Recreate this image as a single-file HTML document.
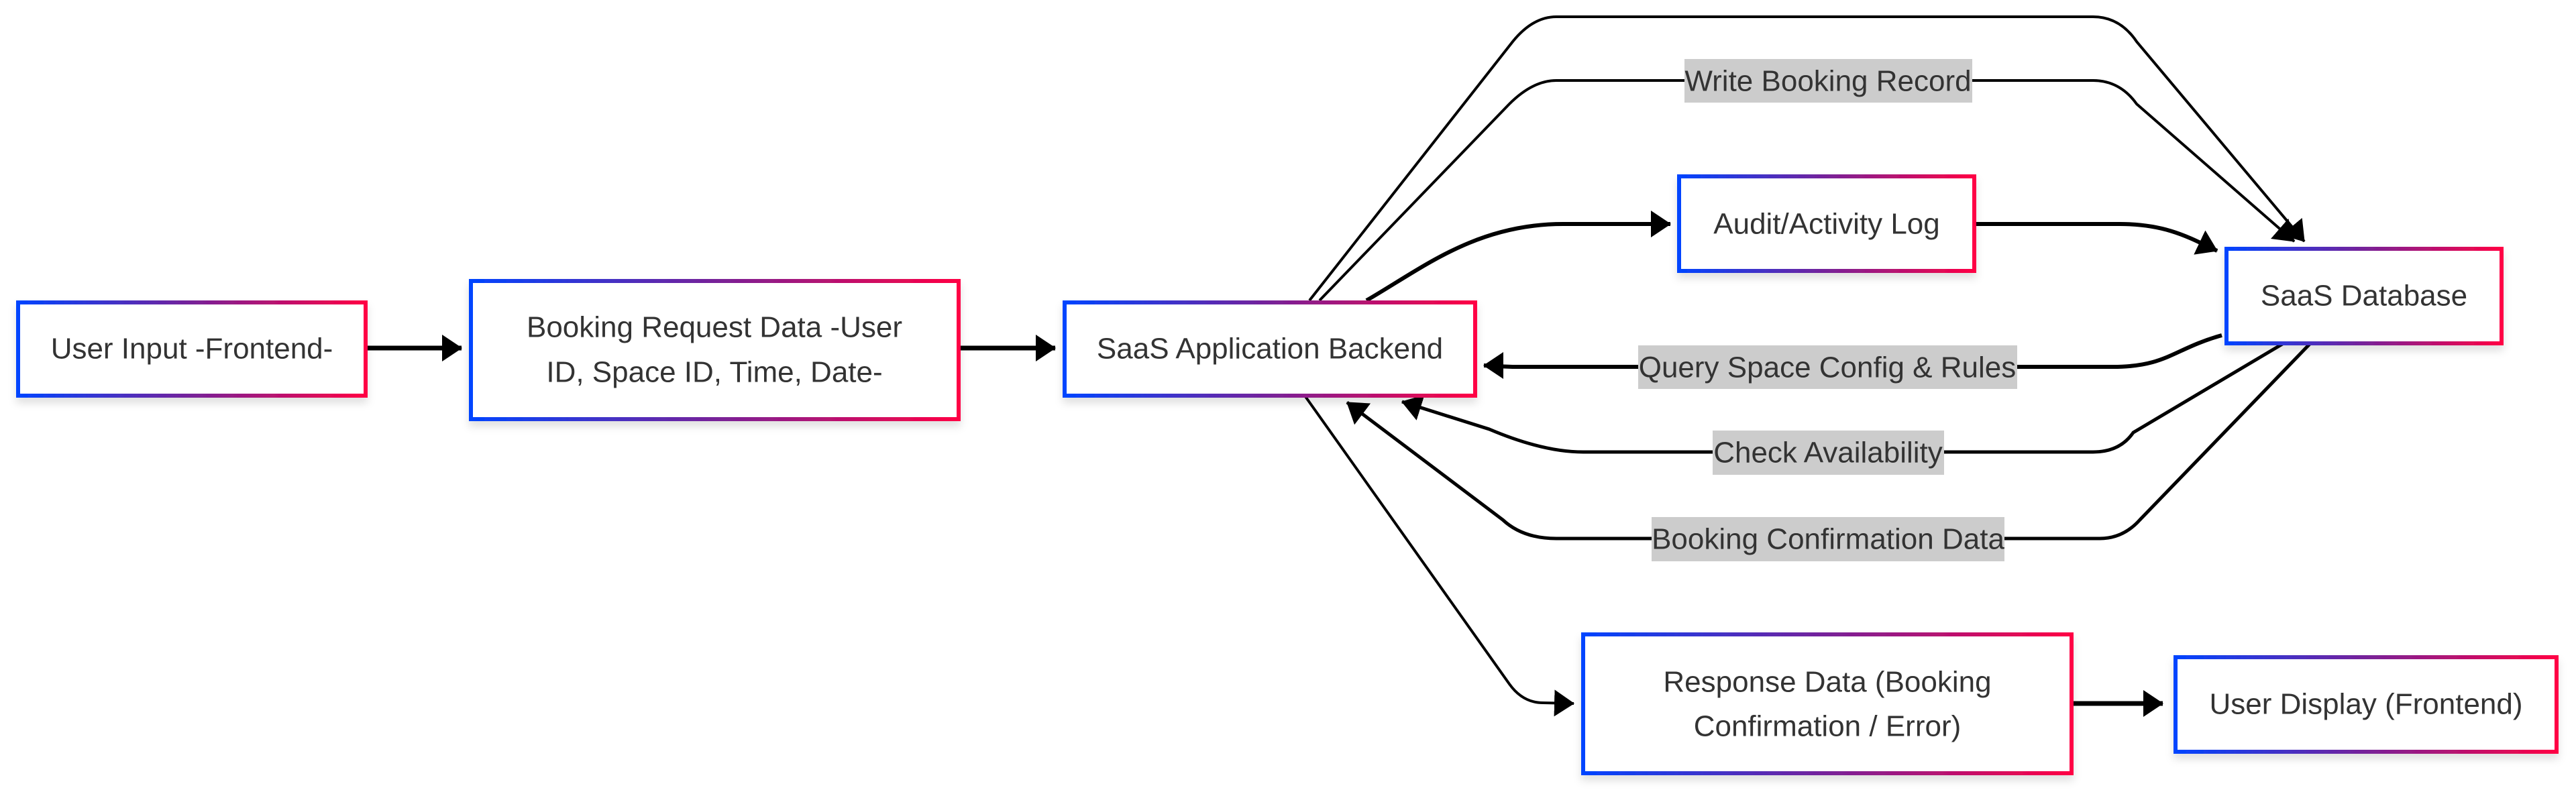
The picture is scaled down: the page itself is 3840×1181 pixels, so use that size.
<!DOCTYPE html>
<html><head><meta charset="utf-8"><style>
html,body{margin:0;padding:0;background:#fff;}
svg{display:block;}
text{font-family:"Liberation Sans",sans-serif;font-size:44px;fill:#333;text-anchor:middle;dominant-baseline:central;}
</style></head><body>
<svg width="3840" height="1181" viewBox="0 0 3840 1181" xmlns="http://www.w3.org/2000/svg">
<defs>
<linearGradient id="g" x1="0" y1="0" x2="1" y2="0" gradientUnits="objectBoundingBox">
<stop offset="0" stop-color="#0044ff"/><stop offset="0.5" stop-color="#772299"/><stop offset="1" stop-color="#ff0044"/>
</linearGradient>
<filter id="sh" x="-10%" y="-10%" width="120%" height="130%"><feDropShadow dx="0" dy="8" stdDeviation="6" flood-color="#000" flood-opacity="0.12"/></filter>
<marker id="ar" viewBox="0 0 30 40" refX="29" refY="20" markerWidth="30" markerHeight="40" orient="auto" markerUnits="userSpaceOnUse">
<path d="M0,0 L30,20 L0,40 z" fill="#000"/></marker>
</defs>
<g fill="none" stroke="#000" stroke-width="5">
<path d="M544,519 L688,519" marker-end="url(#ar)" stroke-width="7"/>
<path d="M1428,519 L1573,519" marker-end="url(#ar)" stroke-width="7"/>
<path d="M2037,448 C2120,400 2200,334 2330,334 L2490,334" marker-end="url(#ar)" stroke-width="6"/>
<path d="M2939,334 L3160,334 C3230,334 3265,355 3305,374" marker-end="url(#ar)" stroke-width="6"/>
<path d="M1952,448 L2255,62 Q2285,25 2320,25 L3120,25 Q3160,25 3185,62 L3435,360" marker-end="url(#ar)" stroke-width="4"/>
<path d="M1967,448 L2250,155 Q2285,120 2320,120 L3120,120 Q3160,120 3185,155 L3420,360" marker-end="url(#ar)" stroke-width="4"/>
<path d="M3312,500 C3240,520 3230,547 3150,547 L2260,547 C2240,547 2230,545 2212,545" marker-end="url(#ar)" stroke-width="6"/>
<path d="M3404,512 L3180,645 Q3160,674 3120,674 L2360,674 Q2300,674 2220,640 L2090,599" marker-end="url(#ar)" stroke-width="5"/>
<path d="M3444,512 L3190,775 Q3165,803 3130,803 L2320,803 Q2270,803 2240,775 L2008,600" marker-end="url(#ar)" stroke-width="5"/>
<path d="M1945,590 L2250,1020 Q2270,1048 2300,1048 L2346,1049" marker-end="url(#ar)" stroke-width="4"/>
<path d="M3090,1049 L3224,1049" marker-end="url(#ar)" stroke-width="7"/>
</g>
<g fill="#cccccc">
<rect x="2511" y="88" width="429" height="65"/>
<rect x="2442" y="515" width="565" height="65"/>
<rect x="2553" y="642" width="345" height="66"/>
<rect x="2462" y="771" width="526" height="66"/>
</g>
<text x="2725" y="121">Write Booking Record</text>
<text x="2724" y="548">Query Space Config &amp; Rules</text>
<text x="2725" y="675">Check Availability</text>
<text x="2725" y="804">Booking Confirmation Data</text>
<g fill="#fff" stroke="url(#g)" stroke-width="6" filter="url(#sh)">
<rect x="27" y="451" width="518" height="139"/>
<rect x="702" y="419" width="727" height="206"/>
<rect x="1587" y="451" width="612" height="139"/>
<rect x="2503" y="263" width="440" height="141"/>
<rect x="3319" y="371" width="410" height="141"/>
<rect x="2360" y="946" width="728" height="207"/>
<rect x="3243" y="980" width="568" height="141"/>
</g>
<text x="286" y="520">User Input -Frontend-</text>
<text x="1065" y="488">Booking Request Data -User</text>
<text x="1065" y="555">ID, Space ID, Time, Date-</text>
<text x="1893" y="520">SaaS Application Backend</text>
<text x="2723" y="334">Audit/Activity Log</text>
<text x="3524" y="441">SaaS Database</text>
<text x="2724" y="1017">Response Data (Booking</text>
<text x="2724" y="1083">Confirmation / Error)</text>
<text x="3527" y="1050">User Display (Frontend)</text>
</svg>
</body></html>
